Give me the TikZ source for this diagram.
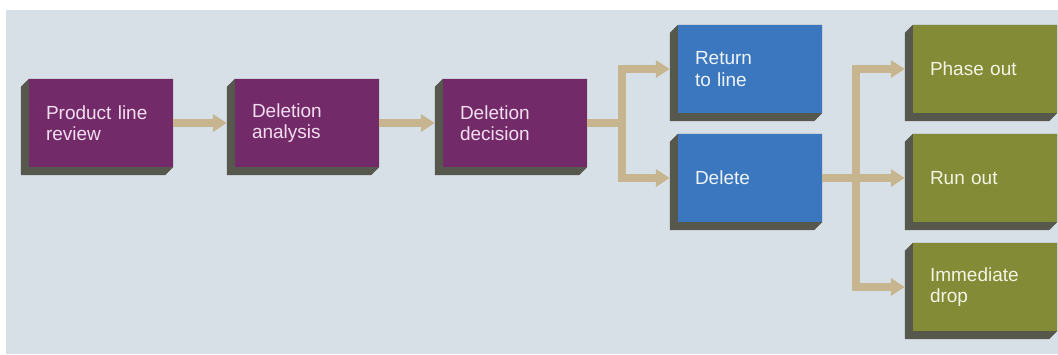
\documentclass[tikz,border=0pt]{standalone}
\usepackage{fontspec}
\setmainfont{Liberation Sans}
\usetikzlibrary{arrows.meta,calc}
\definecolor{panel}{RGB}{216,224,231}
\definecolor{plum}{RGB}{114,42,104}
\definecolor{steel}{RGB}{58,119,190}
\definecolor{olive}{RGB}{131,139,54}
\definecolor{slab}{RGB}{86,88,78}
\definecolor{tan}{RGB}{199,181,143}
\definecolor{plumtext}{RGB}{243,222,240}
\definecolor{steeltext}{RGB}{240,244,250}
\definecolor{olivetext}{RGB}{243,244,228}
\pgfdeclarelayer{bg}
\pgfdeclarelayer{slabs}
\pgfsetlayers{bg,slabs,main}
\begin{document}
\begin{tikzpicture}[x=1pt,y=-1pt,
  block/.style={minimum width=144pt, minimum height=88pt, text width=110pt,
    inner xsep=17pt, inner ysep=0pt, align=left,
    font=\fontsize{19}{21.5}\selectfont},
  purplebox/.style={block, fill=plum, text=plumtext},
  bluebox/.style={block, fill=steel, text=steeltext},
  greenbox/.style={block, fill=olive, text=olivetext},
  flow/.style={draw=tan, line width=8.5pt, line join=miter},
  tipend/.style={-{Triangle[length=14pt,width=17pt]}},
  tipboth/.style={{Triangle[length=14pt,width=17pt]}-{Triangle[length=14pt,width=17pt]}}
]
\useasboundingbox (0,0) rectangle (1058,354);
\begin{pgfonlayer}{bg}
  \fill[white] (0,0) rectangle (1058,354);
  \fill[panel] (6,10) rectangle (1058,354);
\end{pgfonlayer}

% process blocks
\node[purplebox] (b1) at (101,123) {Product line\\review};
\node[purplebox] (b2) at (307,123) {Deletion\\analysis};
\node[purplebox] (b3) at (515,123) {Deletion\\decision};
\node[bluebox]   (b4) at (750,69)  {Return\\to line};
\node[bluebox]   (b5) at (750,178) {Delete};
\node[greenbox]  (g1) at (985,69)  {Phase out};
\node[greenbox]  (g2) at (985,178) {Run out};
\node[greenbox]  (g3) at (985,287) {Immediate\\drop};

% extruded slab under every block (depth to lower left, bevelled corners)
\begin{pgfonlayer}{slabs}
  \foreach \n in {b1,b2,b3,b4,b5,g1,g2,g3}{
    \fill[slab] (\n.north west) -- ++(-8pt,-8pt)
      -- ($(\n.south west)+(-8pt,-8pt)$)
      -- ($(\n.south east)+(-8pt,-8pt)$)
      -- (\n.south east) -- (\n.north east) -- cycle;
  }
\end{pgfonlayer}

% junction points of the branching connectors
\coordinate (j1) at (622,123);
\coordinate (j2) at (856,178);

% connectors
\draw[flow, tipend] (b1.east) -- ([xshift=-8pt]b2.west);
\draw[flow, tipend] (b2.east) -- ([xshift=-8pt]b3.west);
\draw[flow] (b3.east) -- (j1);
\draw[flow, tipboth] ([xshift=-8pt]b4.west) -| (j1) |- ([xshift=-8pt]b5.west);
\draw[flow, tipend] (b5.east) -- ([xshift=-8pt]g2.west);
\draw[flow, tipboth] ([xshift=-8pt]g1.west) -| (j2) |- ([xshift=-8pt]g3.west);
\end{tikzpicture}
\end{document}
